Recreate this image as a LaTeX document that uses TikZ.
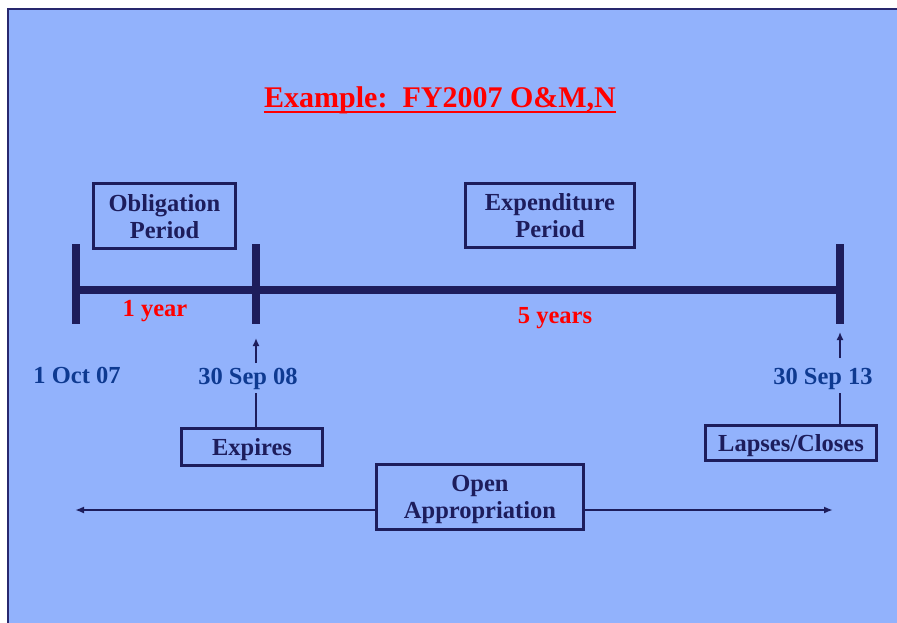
\documentclass[tikz,border=0pt]{standalone}
\usepackage{fontspec}
\setmainfont{Liberation Serif}
\usetikzlibrary{arrows.meta}
\definecolor{slide}{RGB}{146,178,252}
\definecolor{navy}{RGB}{29,29,92}
\definecolor{dateblue}{RGB}{14,58,145}
\definecolor{framec}{RGB}{40,40,110}

\begin{document}
\begin{tikzpicture}[x=1pt,y=-1pt,
  every node/.style={font=\fontsize{24.5}{27}\selectfont\bfseries, inner sep=0pt},
  box/.style={draw=navy, line width=2.6pt, text=navy, align=center, text depth=0pt},
  datelbl/.style={text=dateblue, anchor=base},
  spanlbl/.style={text=red, anchor=base},
  tick/.style={draw=navy, line width=7.5pt},
  axis/.style={draw=navy, line width=7.5pt},
  pointer/.style={draw=navy, line width=2.4pt, -{Latex[length=8pt,width=7pt]}},
  leader/.style={draw=navy, line width=2.4pt},
  spanarrow/.style={draw=navy, line width=2pt, -{Latex[length=9pt,width=7pt]}}]

\useasboundingbox (0,0) rectangle (897,623);
% slide background and frame
\fill[white] (0,0) rectangle (897,623);
\fill[slide] (8,9) rectangle (897,623);
\draw[framec, line width=1.5pt] (8,623) -- (8,9) -- (897,9);

% title
\node[text=red, anchor=base, font=\fontsize{30}{32}\selectfont\bfseries] (title) at (440,108) {Example:\ \ FY2007 O\&M,N};
\draw[red, line width=2.2pt] ([yshift=-4pt]title.base west) -- ([yshift=-4pt]title.base east);

% period boxes
\node[box, minimum width=142pt, minimum height=65pt] (oblig) at (164.5,216) {Obligation\\Period};
\node[box, minimum width=169pt, minimum height=64pt] (expend) at (550,215.5) {Expenditure\\Period};

% timeline
\coordinate (t0a) at (76,244);  \coordinate (t0b) at (76,324);
\coordinate (t1a) at (256,244); \coordinate (t1b) at (256,324);
\coordinate (t2a) at (840,244); \coordinate (t2b) at (840,324);
\coordinate (a0) at (76,290);   \coordinate (a2) at (840,290);
\draw[axis] (a0) -- (a2);
\draw[tick] (t0a) -- (t0b);
\draw[tick] (t1a) -- (t1b);
\draw[tick] (t2a) -- (t2b);

\node[spanlbl] (oneyear) at (155,316) {1 year};
\node[spanlbl] (fiveyears) at (555,323) {5 years};

% dates
\node[datelbl] (d0) at (77,383) {1 Oct 07};
\node[datelbl] (d1) at (248,384) {30 Sep 08};
\node[datelbl] (d2) at (823,384) {30 Sep 13};

% event boxes
\node[box, minimum width=141pt, minimum height=37pt] (expires) at (252,447) {Expires};
\node[box, minimum width=171pt, minimum height=35pt] (lapses) at (791,443) {Lapses/Closes};

\coordinate (p1) at (256,363); \coordinate (p1t) at (256,338);
\coordinate (p2) at (840,358); \coordinate (p2t) at (840,332);
\coordinate (l1) at (256,393); \coordinate (l2) at (840,393);
\draw[pointer] (p1) -- (p1t);
\draw[pointer] (p2) -- (p2t);
\draw[leader] (l1) -- (expires.north -| l1);
\draw[leader] (l2) -- (lapses.north -| l2);

% open appropriation span
\node[box, minimum width=207pt, minimum height=65pt] (open) at (480,497) {Open\\Appropriation};
\coordinate (sL) at (75,510); \coordinate (sR) at (833,510);
\draw[spanarrow] (open.west |- sL) -- (sL);
\draw[spanarrow] (open.east |- sR) -- (sR);
\end{tikzpicture}
\end{document}
